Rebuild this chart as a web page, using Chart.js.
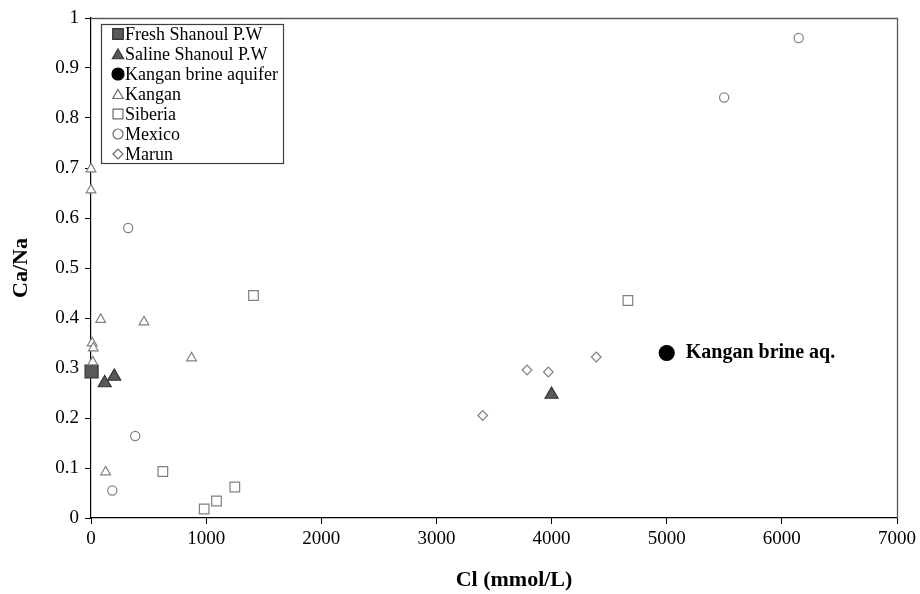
<!DOCTYPE html>
<html><head><meta charset="utf-8">
<script src="https://cdn.jsdelivr.net/npm/chart.js@4"></script>
<style>html,body{margin:0;padding:0;background:#fff;}</style>
</head><body>
<canvas id="c" width="920" height="594"></canvas>
<script>
const FONT = '"Liberation Serif", "Times New Roman", serif';

// ---- data ----
const seriesNames = ['Fresh Shanoul P.W', 'Saline Shanoul P.W', 'Kangan brine aquifer', 'Kangan', 'Siberia', 'Mexico', 'Marun'];

const freshCl = [5];
const freshCaNa = [0.293];

const salineCl = [119, 202, 4000];
const salineCaNa = [0.27, 0.283, 0.247];

const brineCl = [5000];
const brineCaNa = [0.33];

const kanganCl = [0, 0, 84, 460, 873, 10, 20, 15, 127];
const kanganCaNa = [0.698, 0.656, 0.397, 0.392, 0.32, 0.35, 0.34, 0.312, 0.092];

const siberiaCl = [1411, 624, 983, 1090, 1249, 4663];
const siberiaCaNa = [0.445, 0.093, 0.018, 0.034, 0.062, 0.435];

const mexicoCl = [323, 384, 185, 5499, 6146];
const mexicoCaNa = [0.58, 0.164, 0.055, 0.841, 0.96];

const marunCl = [3402, 3787, 3972, 4388];
const marunCaNa = [0.205, 0.296, 0.292, 0.322];

const xTickValues = [0, 1000, 2000, 3000, 4000, 5000, 6000, 7000];
const yTickLabels = ['0', '0.1', '0.2', '0.3', '0.4', '0.5', '0.6', '0.7', '0.8', '0.9', '1'];

const xTitle = 'Cl (mmol/L)';
const yTitle = 'Ca/Na';
const annotText = 'Kangan brine aq.';
const annotIndex = 2; // dataset carrying the annotation

function pts(xs, ys) { return xs.map((x, i) => ({ x: x, y: ys[i] })); }

const styles = [
  { pointStyle: 'rect', radius: 9.2, bg: '#595959', border: '#333333', lr: 7.5 },
  { pointStyle: 'triangle', radius: 7.5, bg: '#595959', border: '#333333', lr: 6.5 },
  { pointStyle: 'circle', radius: 7.5, bg: '#000000', border: '#000000', lr: 6 },
  { pointStyle: 'triangle', radius: 5.6, bg: '#ffffff', border: '#808080', lr: 6 },
  { pointStyle: 'rect', radius: 6.8, bg: '#ffffff', border: '#808080', lr: 7 },
  { pointStyle: 'circle', radius: 4.6, bg: '#ffffff', border: '#808080', lr: 5 },
  { pointStyle: 'rectRot', radius: 4.8, bg: '#ffffff', border: '#808080', lr: 5 }
];

const dataLists = [
  pts(freshCl, freshCaNa), pts(salineCl, salineCaNa), pts(brineCl, brineCaNa),
  pts(kanganCl, kanganCaNa), pts(siberiaCl, siberiaCaNa), pts(mexicoCl, mexicoCaNa), pts(marunCl, marunCaNa)
];

const datasets = dataLists.map((d, i) => ({
  label: seriesNames[i],
  data: d,
  pointStyle: styles[i].pointStyle,
  pointRadius: styles[i].radius,
  pointHoverRadius: styles[i].radius,
  backgroundColor: styles[i].bg,
  borderColor: styles[i].border,
  borderWidth: 1.2,
  showLine: false,
  clip: false,
  order: 7 - i
}));

const decor = {
  id: 'decor',
  beforeDatasetsDraw(chart) {
    const ctx = chart.ctx, a = chart.chartArea;
    ctx.save();
    ctx.strokeStyle = '#595959';
    ctx.lineWidth = 1.3;
    ctx.beginPath();
    ctx.moveTo(a.left, a.top + 0.5);
    ctx.lineTo(a.right + 0.5, a.top + 0.5);
    ctx.lineTo(a.right + 0.5, a.bottom);
    ctx.stroke();
    ctx.restore();
  },
  afterDraw(chart) {
    const ctx = chart.ctx, a = chart.chartArea;
    const xs = chart.scales.x, ys = chart.scales.y;
    ctx.save();
    ctx.fillStyle = '#000';
    // axis titles
    ctx.font = 'bold 22px ' + FONT;
    ctx.textAlign = 'center';
    ctx.textBaseline = 'middle';
    ctx.fillText(xTitle, 514, 580);
    ctx.save();
    ctx.translate(21, (a.top + a.bottom) / 2);
    ctx.rotate(-Math.PI / 2);
    ctx.fillText(yTitle, 0, 0);
    ctx.restore();
    // annotation next to brine point
    const p = dataLists[annotIndex][0];
    ctx.font = 'bold 20px ' + FONT;
    ctx.textAlign = 'left';
    ctx.fillText(annotText, xs.getPixelForValue(p.x) + 19, ys.getPixelForValue(p.y));
    // legend
    const lx = a.left + 10, ly = a.top + 6, lw = 182, lh = 139;
    ctx.fillStyle = '#fff';
    ctx.fillRect(lx, ly, lw, lh);
    ctx.strokeStyle = '#404040';
    ctx.lineWidth = 1.2;
    ctx.strokeRect(lx + 0.5, ly + 0.5, lw, lh);
    ctx.font = '18px ' + FONT;
    ctx.textBaseline = 'middle';
    seriesNames.forEach((name, i) => {
      const cy = ly + 10 + i * 20;
      const s = styles[i];
      ctx.fillStyle = s.bg;
      ctx.strokeStyle = s.border === '#808080' ? '#6a6a6a' : s.border;
      ctx.lineWidth = 1.2;
      Chart.helpers.drawPoint(ctx, { pointStyle: s.pointStyle, radius: s.lr, borderWidth: 1.2, rotation: 0 }, lx + 17, cy + (s.pointStyle === 'triangle' ? 1.5 : 0));
      ctx.fillStyle = '#000';
      ctx.fillText(name, lx + 24, cy + 1);
    });
    ctx.restore();
  }
};

new Chart(document.getElementById('c'), {
  type: 'scatter',
  data: { datasets: datasets },
  options: {
    responsive: false,
    animation: false,
    devicePixelRatio: 1,
    layout: { padding: { top: 18, right: 21, left: 0, bottom: 0 } },
    plugins: { legend: { display: false }, tooltip: { enabled: false } },
    scales: {
      x: {
        type: 'linear', min: 0, max: 7000,
        afterFit(s) { s.height = 76; },
        afterBuildTicks(s) { s.ticks = xTickValues.map(v => ({ value: v })); },
        ticks: { font: { family: FONT, size: 19 }, color: '#000', padding: 4, maxRotation: 0,
          callback: v => String(v) },
        grid: { drawOnChartArea: false, drawTicks: true, tickLength: 6, color: '#000', lineWidth: 1 },
        border: { color: '#000', width: 1.2 }
      },
      y: {
        type: 'linear', min: 0, max: 1,
        afterFit(s) { s.width = 91; },
        afterBuildTicks(s) { s.ticks = yTickLabels.map((t, i) => ({ value: i / 10 })); },
        ticks: { font: { family: FONT, size: 19 }, color: '#000', padding: 6,
          callback: (v, i) => yTickLabels[i] },
        grid: { drawOnChartArea: false, drawTicks: true, tickLength: 6, color: '#000', lineWidth: 1 },
        border: { color: '#000', width: 1.2 }
      }
    }
  },
  plugins: [decor]
});
</script>
</body></html>
